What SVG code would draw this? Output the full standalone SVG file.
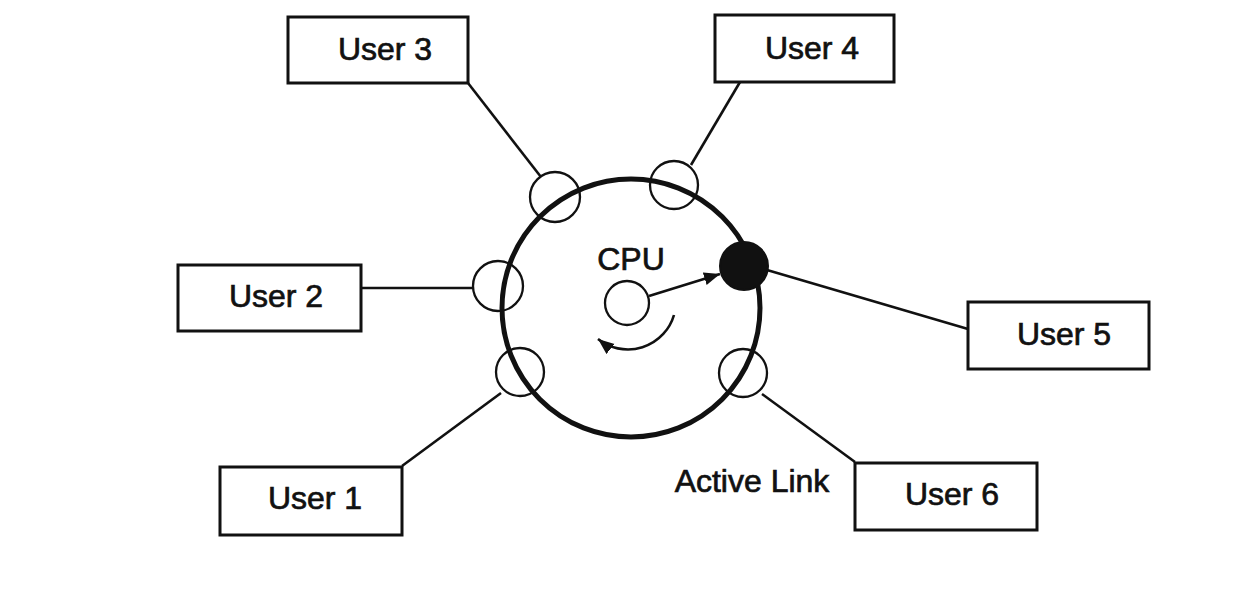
<svg xmlns="http://www.w3.org/2000/svg" width="1242" height="595" viewBox="0 0 1242 595">
<style>
.box{fill:#fff;stroke:#111;stroke-width:3}
.lbl{font-family:"Liberation Sans",Arial,sans-serif;font-size:32px;fill:#111;stroke:#111;stroke-width:0.7;text-anchor:middle}
.ln{stroke:#111;stroke-width:2.6;fill:none}
.port{fill:none;stroke:#111;stroke-width:2.3}
</style>
<defs>
<marker id="ah" markerUnits="userSpaceOnUse" markerWidth="18" markerHeight="14" refX="16" refY="6.5" orient="auto">
<path d="M0,0 L16,6.5 L0,13 z" fill="#111"/>
</marker>
</defs>
<rect width="1242" height="595" fill="#fff"/>
<g id="connectors">
<line class="ln" x1="468" y1="83" x2="541" y2="177"/>
<line class="ln" x1="740" y1="82" x2="691" y2="165"/>
<line class="ln" x1="362" y1="288" x2="474" y2="288"/>
<line class="ln" x1="767" y1="270" x2="968" y2="329"/>
<line class="ln" x1="402" y1="466" x2="501" y2="393"/>
<line class="ln" x1="762" y1="394" x2="855" y2="462"/>
</g>
<g id="ring">
<circle cx="631" cy="308" r="129" fill="none" stroke="#111" stroke-width="5"/>
</g>
<g id="ports">
<circle class="port" cx="555" cy="197" r="25"/>
<circle class="port" cx="674" cy="185" r="24"/>
<circle class="port" cx="498" cy="286" r="25"/>
<circle class="port" cx="520" cy="372" r="24"/>
<circle class="port" cx="743" cy="373" r="24"/>
<circle cx="744" cy="266" r="24" fill="#111" stroke="#111" stroke-width="2"/>
</g>
<g id="cpu">
<circle cx="627" cy="303" r="22" fill="#fff" stroke="#111" stroke-width="2.3"/>
<text class="lbl" x="631" y="270" font-size="30">CPU</text>
<line class="ln" x1="649" y1="296" x2="720" y2="274" marker-end="url(#ah)"/>
<path class="ln" d="M674,315 A48,48 0 0 1 598,339" marker-end="url(#ah)" stroke-width="3"/>
</g>
<g id="user3"><rect class="box" x="288" y="17" width="180" height="66"/><text class="lbl" x="385" y="60">User 3</text></g>
<g id="user4"><rect class="box" x="715" y="15" width="179" height="67"/><text class="lbl" x="812" y="59">User 4</text></g>
<g id="user2"><rect class="box" x="178" y="265" width="183" height="66"/><text class="lbl" x="276" y="307">User 2</text></g>
<g id="user5"><rect class="box" x="968" y="302" width="181" height="67"/><text class="lbl" x="1064" y="345">User 5</text></g>
<g id="user1"><rect class="box" x="220" y="467" width="182" height="68"/><text class="lbl" x="315" y="509">User 1</text></g>
<g id="user6"><rect class="box" x="855" y="463" width="182" height="67"/><text class="lbl" x="952" y="505">User 6</text></g>
<g id="active-link"><text class="lbl" x="752" y="492">Active Link</text></g>
</svg>
